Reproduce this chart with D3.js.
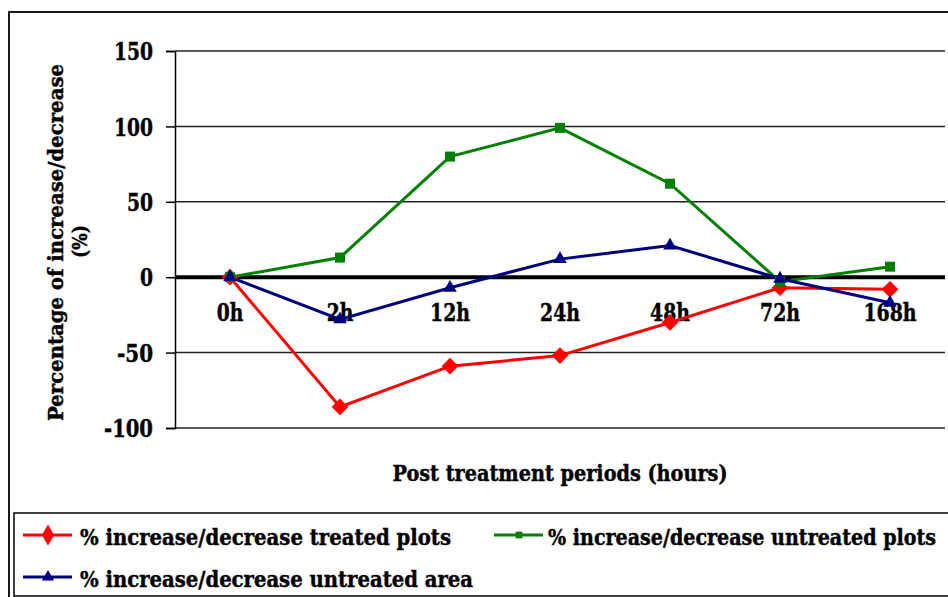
<!DOCTYPE html>
<html>
<head>
<meta charset="utf-8">
<script src="https://cdn.jsdelivr.net/npm/d3@7"></script>
<style>
  html, body { margin: 0; padding: 0; background: #fff; }
  svg { display: block; }
</style>
</head>
<body>
<svg id="chart" width="948" height="597" font-family="'DejaVu Serif', serif" font-weight="bold"></svg>
<script>
const categories = ["0h", "2h", "12h", "24h", "48h", "72h", "168h"];
const treatedPlots = [0, -86, -59, -52, -30, -7, -8];
const untreatedPlots = [0, 13, 80, 99, 62, -3, 7];
const untreatedArea = [0, -28, -7, 12, 21, -1, -17];
const yTicks = [150, 100, 50, 0, -50, -100];

const seriesNames = [
  "% increase/decrease treated plots",
  "% increase/decrease untreated plots",
  "% increase/decrease untreated area"
];

const series = [
  { name: seriesNames[0], values: treatedPlots, color: "#ff0000", symbol: "diamond" },
  { name: seriesNames[1], values: untreatedPlots, color: "#008000", symbol: "square" },
  { name: seriesNames[2], values: untreatedArea, color: "#000080", symbol: "triangle" }
];

const FONT = "'DejaVu Serif', serif";
const HEAVY = 0.45; // extra stroke to approximate the heavy Times bold of the original
const svg = d3.select("#chart");

// outer chart border
svg.append("rect").attr("x", 9).attr("y", 12).attr("width", 960).attr("height", 600)
  .attr("fill", "none").attr("stroke", "#000").attr("stroke-width", 1.8);

const plot = { left: 175, right: 945, top: 51, bottom: 428 };

const x = d3.scaleBand().domain(categories).range([plot.left, plot.right]);
const y = d3.scaleLinear().domain([-100, 150]).range([plot.bottom, plot.top]);

// gridlines
svg.append("g").selectAll("line").data(yTicks).join("line")
  .attr("x1", plot.left).attr("x2", plot.right)
  .attr("y1", d => y(d)).attr("y2", d => y(d))
  .attr("stroke", "#222").attr("stroke-width", 1.5);

// y axis
const yAxis = d3.axisLeft(y).tickValues(yTicks).tickSize(9).tickPadding(13).tickFormat(d => String(d));
const gy = svg.append("g").attr("transform", `translate(${plot.left},0)`).call(yAxis);
gy.attr("font-family", FONT).attr("font-size", 24).attr("font-weight", "bold");
gy.select(".domain").attr("stroke", "#000").attr("stroke-width", 1.5);
gy.selectAll(".tick line").attr("stroke", "#000").attr("stroke-width", 1.5);
gy.selectAll(".tick text").attr("dy", "0.36em").attr("fill", "#000")
  .attr("stroke", "#000").attr("stroke-width", HEAVY)
  .attr("textLength", d => { const s = String(d); return s.replace("-", "").length * 13 + (s[0] === "-" ? 10 : 0); })
  .attr("lengthAdjust", "spacingAndGlyphs");

// zero line (thick, x axis)
svg.append("line").attr("x1", plot.left).attr("x2", plot.right)
  .attr("y1", y(0)).attr("y2", y(0)).attr("stroke", "#000").attr("stroke-width", 4);

// x axis labels below zero line
const xAxis = d3.axisBottom(x).tickSize(0).tickPadding(32);
const gx = svg.append("g").attr("transform", `translate(0,${y(0)})`).call(xAxis);
gx.attr("font-family", FONT).attr("font-size", 24).attr("font-weight", "bold");
gx.select(".domain").remove();
gx.selectAll(".tick text").attr("fill", "#000").attr("dy", "0.5em")
  .attr("stroke", "#000").attr("stroke-width", HEAVY)
  .attr("textLength", d => d.length * 13.3).attr("lengthAdjust", "spacingAndGlyphs");

// lines and markers
const line = d3.line().x((d, i) => x(categories[i]) + x.bandwidth() / 2).y(d => y(d));
const symType = { diamond: d3.symbolSquare, square: d3.symbolSquare, triangle: d3.symbolTriangle };
const symSize = { diamond: 140, square: 100, triangle: 80 };
const symRot = { diamond: 45, square: 0, triangle: 0 };

series.forEach(s => {
  svg.append("path").datum(s.values).attr("d", line)
    .attr("fill", "none").attr("stroke", s.color).attr("stroke-width", 3);
});
series.forEach(s => {
  svg.append("g").selectAll("path").data(s.values).join("path")
    .attr("transform", (d, i) => `translate(${x(categories[i]) + x.bandwidth() / 2},${y(d)}) rotate(${symRot[s.symbol]})`)
    .attr("d", d3.symbol().type(symType[s.symbol]).size(symSize[s.symbol]))
    .attr("fill", s.color);
});

// axis titles
svg.append("text").attr("x", (plot.left + plot.right) / 2).attr("y", 481)
  .attr("text-anchor", "middle").attr("font-family", FONT).attr("font-size", 22)
  .attr("stroke", "#000").attr("stroke-width", HEAVY)
  .attr("textLength", 335).attr("lengthAdjust", "spacingAndGlyphs")
  .text("Post treatment periods (hours)");

svg.append("text").attr("transform", "translate(63,242.5) rotate(-90)").attr("text-anchor", "middle")
  .attr("font-family", FONT).attr("font-size", 21)
  .attr("stroke", "#000").attr("stroke-width", HEAVY)
  .attr("textLength", 357).attr("lengthAdjust", "spacingAndGlyphs")
  .text("Percentage of increase/decrease");
svg.append("text").attr("transform", "translate(87,241.5) rotate(-90)").attr("text-anchor", "middle")
  .attr("font-family", FONT).attr("font-size", 21)
  .attr("stroke", "#000").attr("stroke-width", HEAVY)
  .attr("textLength", 33).attr("lengthAdjust", "spacingAndGlyphs")
  .text("(%)");

// legend
svg.append("rect").attr("x", 14).attr("y", 513).attr("width", 950).attr("height", 83)
  .attr("fill", "#fff").attr("stroke", "#000").attr("stroke-width", 1.5);

const legendPos = [
  { lx: 23, ly: 535, tx: 80, len: 371 },
  { lx: 494, ly: 535, tx: 548, len: 388 },
  { lx: 23, ly: 577, tx: 80, len: 393 }
];
const legSym = { diamond: d3.symbolDiamond, square: d3.symbolSquare, triangle: d3.symbolTriangle };
const legSize = { diamond: 130, square: 45, triangle: 65 };
series.forEach((s, i) => {
  const p = legendPos[i];
  const g = svg.append("g");
  g.append("line").attr("x1", p.lx).attr("x2", p.lx + 49).attr("y1", p.ly).attr("y2", p.ly)
    .attr("stroke", s.color).attr("stroke-width", 3);
  g.append("path").attr("transform", `translate(${p.lx + 25},${p.ly})`)
    .attr("d", d3.symbol().type(legSym[s.symbol]).size(legSize[s.symbol]))
    .attr("fill", s.color);
  g.append("text").attr("x", p.tx).attr("y", p.ly + 10).attr("font-family", FONT).attr("font-size", 22)
    .attr("stroke", "#000").attr("stroke-width", HEAVY)
    .attr("textLength", p.len).attr("lengthAdjust", "spacingAndGlyphs").text(s.name);
});
</script>
</body>
</html>
